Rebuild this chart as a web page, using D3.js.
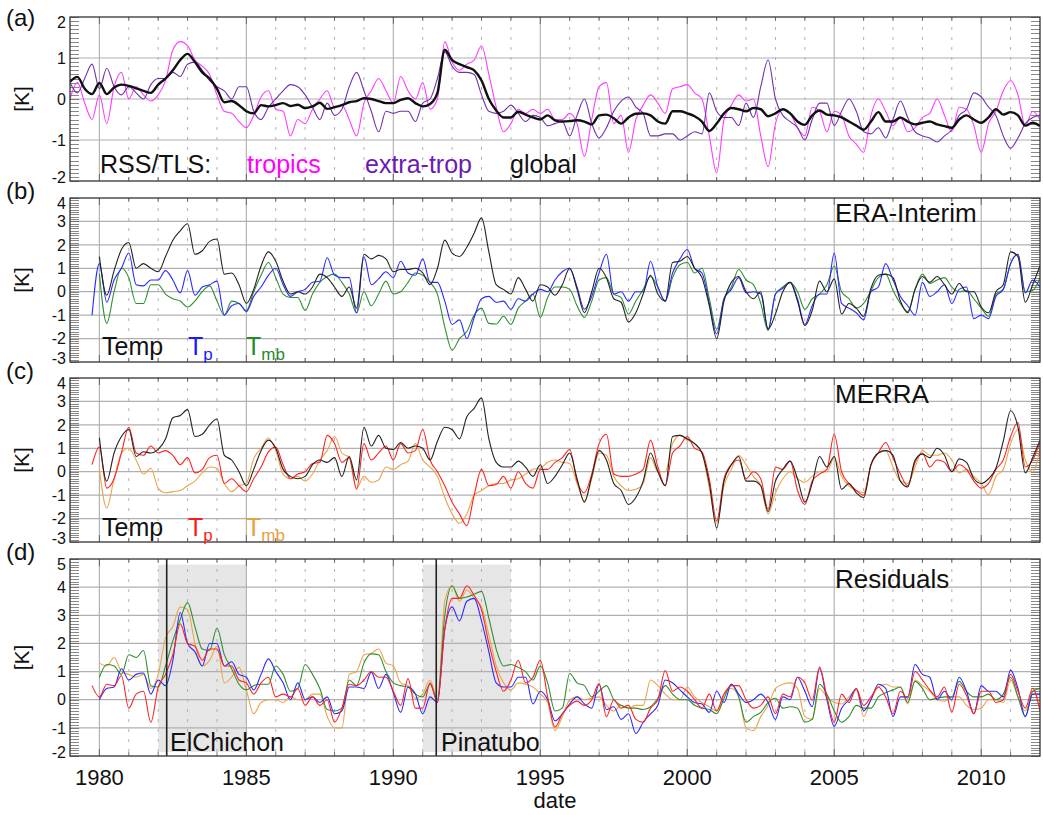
<!DOCTYPE html>
<html><head><meta charset="utf-8">
<script src="https://cdn.jsdelivr.net/npm/d3@7"></script>
<style>
body{margin:0;background:#fff}
svg{display:block;font-family:"Liberation Sans",Arial,Helvetica,sans-serif}
</style>
</head><body>
<svg id="chart" width="1043" height="815"></svg>
<script>
// ---------------- DATA (quarterly samples) ----------------
const STEP = 0.25;
const xTickYears = [1980, 1985, 1990, 1995, 2000, 2005, 2010];
const xTickLabels = ["1980", "1985", "1990", "1995", "2000", "2005", "2010"];
const yTicksA = [-2, -1, 0, 1, 2];
const yTicksBC = [-3, -2, -1, 0, 1, 2, 3, 4];
const yTicksD = [-2, -1, 0, 1, 2, 3, 4, 5];

// (a) RSS/TLS, start 1979.0
const rssTropics = [
  0.0, 0.4, -0.1, -0.5,   0.1, -0.6, 0.3, 0.65,   0.0, 0.3, 0.1, -0.05,   0.1, 0.45, 1.2, 1.4,
  1.3, 0.95, 0.8, 0.6,    0.1, -0.3, -0.35, -0.55, -0.7, -0.4, 0.05, 0.2,  -0.25, -0.3, -0.9, -0.5,
  -0.6, -0.25, 0.0, 0.2,  -0.2, -0.15, -0.5, -0.9, -0.1, 0.2, 0.5, 0.2,   -0.1, 0.55, 0.2, 0.0,
  0.4, -0.25, 0.0, 1.4,   0.9, 0.7, 0.85, 0.95,   1.3, 0.6, -0.2, -0.8,   -0.6, -0.25, -0.35, -0.25,
  -0.35, -0.25, -0.5, -0.5, -0.35, -0.6, -1.4, -0.5, 0.3, 0.4, -0.6, -0.4, -1.3, -0.5, -0.15, 0.1,
  -0.1, -0.35, 0.25, 0.3, 0.35, 0.15, 0.0, -0.9,  -1.8, -0.5, -0.15, 0.1,  -0.05, 0.0, -0.9, -1.65,
  -0.6, -0.25, -0.35, -0.7, -0.9, -0.2, -0.3, -0.8, -0.3, -0.4, -0.9, -1.1, -1.3, -0.4, 0.0, -0.3,
  -0.65, -0.45, -0.8, -0.7, -0.45, -0.35, 0.0, -0.4, -0.8, -0.2, -0.25, -0.65, -1.3, -0.6, -0.3, 0.2,
  0.45, 0.1, -0.65, -0.3, -0.5
];
const rssExtra = [
  0.4, 0.15, 0.5, 0.85,   0.25, 0.75, 0.3, 0.1,   0.3, 0.15, 0.0, 0.35,   0.5, 0.5, 0.65, 0.55,
  0.85, 0.9, 0.7, 0.45,   0.3, 0.2, 0.0, 0.3,     0.3, -0.3, -0.5, -0.2,  0.0, 0.2, 0.35, 0.3,
  0.1, -0.2, -0.5, -0.1,  -0.4, -0.25, 0.3, 0.65, 0.2, -0.3, -0.8, -0.3,  -0.35, -0.3, -0.3, -0.55,
  -0.1, 0.0, 0.5, 1.15,   0.8, 0.65, 0.65, 0.6,   0.1, -0.3, -0.35, -0.3, -0.15, -0.35, -0.55, -0.4,
  -0.45, -0.65, -0.6, -0.55, -0.9, -0.4, 0.0, -0.6, -0.95, -0.7, -0.3, -0.05, 0.05, -0.2, -0.35, -0.9,
  -0.9, -0.85, -0.85, -1.0, -0.9, -0.8, -0.85, 0.15, -0.3, -0.45, -0.45, -0.65, -0.1, -0.45, 0.3, 0.95,
  0.0, -0.4, -0.55, -0.7, -1.0, -0.5, -0.1, -0.1,  -0.65, -0.3, 0.0, -0.3, -0.8, -0.85, -0.7, -0.95,
  -0.5, -0.05, -0.45, -0.8, -0.9, -0.95, -1.05, -0.9, -0.75, -0.4, -0.25, 0.15, 0.05, -0.2, -0.4, -0.9,
  -1.2, -0.95, -0.6, -0.45, -0.4
];
const rssGlobal = [
  0.42, 0.54, 0.25, 0.12,  0.39, 0.12, 0.28, 0.35,  0.32, 0.26, 0.2, 0.15,  0.35, 0.5, 0.7, 0.95,
  1.1, 0.9, 0.65, 0.5,     0.25, -0.08, -0.05, -0.15, -0.3, -0.35, -0.15, -0.18, -0.15, -0.1, -0.17, -0.14,
  -0.22, -0.18, -0.09, -0.24, -0.2, -0.15, -0.08, -0.05, 0.02, 0.0, -0.05, -0.1, -0.1, -0.02, 0.02, -0.1,
  -0.18, -0.12, 0.15, 1.2, 0.95, 0.85, 0.78, 0.7,  0.45, 0.0, -0.28, -0.45, -0.45, -0.31, -0.38, -0.45,
  -0.5, -0.4, -0.52, -0.55, -0.54, -0.52, -0.55, -0.62, -0.4, -0.38, -0.47, -0.6, -0.45, -0.36, -0.35, -0.4,
  -0.55, -0.6, -0.3, -0.3, -0.35, -0.42, -0.55, -0.78, -0.6, -0.35, -0.22, -0.25, -0.3, -0.22, -0.25, -0.42,
  -0.35, -0.25, -0.35, -0.55, -0.63, -0.4, -0.28, -0.38, -0.4, -0.45, -0.55, -0.65, -0.75, -0.55, -0.32, -0.55,
  -0.55, -0.45, -0.55, -0.62, -0.58, -0.55, -0.62, -0.66, -0.7, -0.5, -0.4, -0.5, -0.58, -0.45, -0.25, -0.38,
  -0.32, -0.4, -0.65, -0.58, -0.66
];

// (b) ERA-Interim
const eraTemp = [ // start 1980.0
  1.5, -0.15, 0.9, 1.8,   2.1, 1.0, 1.2, 1.0,   0.85, 1.5, 2.2, 2.6,   2.9, 1.6, 1.75, 2.15,
  2.25, 0.75, 0.8, 0.3,   -0.5, 0.1, 1.1, 1.7,  1.3, 0.45, -0.1, 0.0,  -0.1, 0.2, 0.75, 0.6,
  0.2, -0.2, 0.2, -0.7,   1.6, 1.4, 1.55, 1.4,  0.85, 0.95, 0.95, 1.0,  0.8, 0.3, 1.0, 2.2,
  1.65, 1.5, 1.9, 2.5,    3.15, 1.7, 0.3, 0.1,  -0.1, 0.6, 0.1, -0.4,  0.3, 0.2, -0.15, 0.3,
  1.0, 0.1, -0.9, 0.0,    1.0, 0.6, -0.3, -0.45, -1.3, -0.9, -0.1, 0.7, -0.1, -0.4, 1.25, 1.3,
  1.5, 1.0, 0.6, -0.6,    -2.0, -0.4, 0.4, 0.65, 0.0, -0.3, 0.0, -1.6,  -0.95, 0.0, 0.4, -0.4,
  -1.45, -0.8, 0.45, 0.0, 0.55, -0.95, -0.5, -0.7, -1.05, 0.15, 0.7, 0.75, 0.6, -0.4, -0.9, 0.1,
  0.65, 0.4, 0.65, 0.3,   -0.1, 0.35, 0.0, 0.0,  -0.65, -0.9, 0.0, 0.3,  1.7, 1.5, -0.45, 0.3,
  1.1
];
const eraTp = [ // start 1979.75
  -1.0,
  1.2, -0.45, 0.5, 1.0,   1.65, 0.3, 0.25, 0.5,  0.5, 0.9, 0.5, -0.05,  0.9, -0.15, 0.2, 0.3,
  0.45, -1.0, -0.6, -0.5, -0.85, -0.2, 0.2, 0.7, 1.0, 0.3, -0.2, 0.0,   0.1, 0.4, 0.45, 1.45,
  0.7, 0.6, 0.6, -0.9,    1.5, 0.3, 0.55, 0.85, 0.6, 1.3, 0.8, 0.7,    1.4, 0.4, 0.4, -0.4,
  -1.4, -1.2, -2.0, -1.1, -0.3, -0.2, -0.45, -0.4, -0.75, -0.3, -0.4, -0.1, 0.1, 0.0, 0.5, 0.85,
  1.0, 0.2, -0.75, -0.2,  0.8, 1.6, -0.1, 0.0,  -0.4, 0.0, 0.0, 1.3,   0.2, -0.4, 0.8, 1.4,
  1.8, 1.0, 0.8, -0.5,    -1.8, -0.3, 0.1, 0.6, -0.05, 0.0, -0.1, -1.6, -0.1, 0.15, 0.4, -0.3,
  -1.4, -0.6, -0.1, -0.1, 1.65, -0.5, -0.7, -0.9, -1.2, 0.0, 0.2, 1.2,  0.5, -0.2, -0.6, -1.0,
  0.4, -0.2, 0.0, 0.3,    -0.5, 0.1, 0.2, -1.15, -1.0, -1.15, -0.2, 0.1, 1.2, 1.6, -0.05, 0.5,
  0.2
];
const eraTmb = [ // start 1980.0
  0.75, -1.35, 0.0, 1.0,  0.6, -0.5, -0.5, 0.3,  0.3, -0.1, -0.3, -0.4,  -0.65, -0.4, 0.0, 0.25,
  -0.4, -1.0, -0.4, -0.5, -0.8, 0.0, 0.7, 1.25,  0.6, -0.1, -0.25, -0.25, -0.8, -0.1, 0.4, 0.65,
  0.75, 0.4, -0.1, -0.9,  0.0, -0.6, -0.1, 0.45, -0.1, 0.0, 0.4, 0.8,   0.7, 0.4, -0.1, -1.5,
  -2.5, -2.0, -1.7, -1.0, -0.7, -1.35, -1.38, -1.05, -1.4, -0.7, -0.4, -0.1, -1.1, -0.25, 0.2, 0.2,
  0.1, -0.6, -1.1, -0.4,  0.5, 0.6, -0.1, -0.25, -0.95, -0.4, 0.1, 0.65, 0.2, -0.4, 0.6, 1.15,
  1.25, 0.8, 1.0, -0.3,   -1.6, -0.3, 0.2, 0.95, 0.5, 0.3, -0.5, -1.65, -0.1, 0.2, 0.4, 0.0,
  -0.75, -0.3, -0.1, 0.3, 1.1, 0.0, -0.3, -0.7,  -0.5, 0.05, 0.6, 0.75, 0.05, -0.5, -0.85, 0.1,
  0.75, 0.35, 0.5, 0.6,   0.2, 0.0, 0.05, -0.3,  -0.7, -1.05, -0.1, 0.1, 1.2, 1.6, 0.0, 0.05,
  0.6
];

// (c) MERRA
const merraTemp = [ // start 1980.0
  1.45, -0.4, 0.8, 1.5,   1.8, 0.65, 0.85, 0.8,  0.95, 1.4, 2.3, 2.4,   2.65, 1.5, 1.6, 2.0,
  2.25, 0.7, 0.5, 0.0,    -0.6, 0.1, 0.9, 1.35,  1.0, 0.1, -0.2, -0.3,  -0.2, 0.3, 0.5, 0.4,
  0.6, -0.2, 0.65, -0.35, 1.9, 1.1, 1.55, 1.0,   0.95, 1.25, 1.0, 1.1,  1.0, 0.5, 1.3, 1.9,
  1.8, 1.4, 2.35, 2.7,    3.15, 1.4, 0.4, 0.2,   0.2, 0.45, 0.2, -0.2,  0.3, -0.5, -0.2, 0.3,
  0.8, -0.3, -1.3, -0.2,  0.9, 0.5, -0.5, -0.8,  -1.4, -1.1, -0.4, 0.8, 0.0, -0.6, 1.5, 1.55,
  1.4, 1.2, 0.8, -0.5,    -2.4, -0.4, 0.3, 0.65, -0.4, -0.4, -0.6, -1.7, -0.4, 0.1, 0.45, -0.3,
  -1.3, -0.5, 0.65, 0.2,  0.65, -0.75, -0.5, -0.9, -1.1, 0.3, 0.8, 0.9,  0.7, -0.4, -0.65, 0.5,
  0.75, 0.6, 1.0, 0.7,    0.0, 0.55, 0.4, -0.3,  -0.5, -0.3, 0.15, 1.3,  2.6, 1.9, -0.05, 0.6,
  1.35
];
const merraTp = [ // start 1979.75
  0.3,
  1.05, -0.7, -0.3, 0.8,  1.9, 0.8, 0.7, 1.1,    0.8, 0.9, 0.7, 0.3,    0.6, -0.05, 0.1, 0.6,
  0.7, -0.5, -0.3, -0.6,  -0.85, -0.3, 0.2, 0.85, 1.05, 0.3, -0.3, -0.1, 0.0, 0.35, 0.4, 1.55,
  1.2, 0.4, 0.6, -0.75,   1.2, 0.5, 0.8, 1.1,    0.5, 1.2, 0.8, 0.9,    1.8, 0.5, 0.0, -0.6,
  -1.3, -1.8, -2.3, -1.0, 0.1, -0.6, -0.55, -0.2, -0.7, 0.0, -0.5, -0.7, 0.1, 0.1, 0.4, 0.6,
  0.95, -0.4, -0.9, -0.1, 1.2, 1.6, -0.1, -0.2,  -0.2, -0.1, 0.1, 1.35,  0.2, -0.6, 0.8, 1.1,
  1.5, 1.0, 0.85, -0.3,   -2.1, -0.3, 0.3, 0.5,  -0.3, 0.0, -0.3, -1.6,  0.2, 0.1, 0.45, -0.8,
  -1.4, -0.4, -0.1, 0.1,  1.6, 0.0, -0.5, -0.8,  -1.0, 0.3, 0.8, 1.25,  0.6, -0.1, -0.6, 0.4,
  0.8, 0.2, 0.5, 0.4,     0.0, 0.3, 0.1, -0.4,   -0.7, -0.5, 0.1, 0.5,  1.5, 2.1, 0.2, 0.5,
  1.25
];
const merraTmb = [ // start 1980.0
  0.1, -1.55, -0.3, 0.8,  1.0, 0.5, -0.1, 0.15,  -0.7, -0.9, -0.85, -0.8, -0.6, -0.4, -0.05, 0.2,
  0.15, -0.5, -0.85, -0.6, -0.5, 0.55, 1.0, 1.44, 0.9, -0.1, -0.3, -0.2, -0.4, -0.1, 0.5, 0.9,
  1.5, 0.8, 0.6, -0.7,    -0.2, -0.45, -0.35, 0.2, 0.1, 0.3, 0.45, 1.2,  0.5, 0.2, -0.2, -1.1,
  -1.8, -2.2, -1.8, -1.0, -0.8, -0.6, -0.5, -0.5, -0.35, -0.3, -0.1, 0.1, 0.15, 0.4, 0.5, 0.4,
  0.35, -0.5, -1.25, -0.3, 0.8, 0.7, -0.2, -0.6, -0.8, -0.75, -0.5, 0.6, 0.0, 0.0, 1.2, 1.55,
  1.35, 1.2, 0.8, -0.7,   -2.2, -0.6, 0.1, 0.7,  0.3, -0.2, -0.6, -1.8,  -0.9, -0.3, 0.0, -0.3,
  -0.45, -0.2, 0.0, 0.0,  0.6, -0.2, -0.6, -0.8, -0.9, 0.3, 0.8, 0.9,    0.2, -0.4, -0.5, 0.2,
  0.9, 0.7, 0.7, 0.8,     0.5, -0.05, 0.1, -0.2, -0.5, -0.98, -0.2, 0.1, 1.2, 1.8, 0.5, 0.0,
  1.0
];

// (d) Residuals
const resEraTp = [ // start 1980.0
  0.0, 0.4, 0.45, 1.1,    0.7, 0.9, 0.95, 0.2,   0.7, 0.5, 1.4, 3.1,    2.0, 1.7, 1.2, 2.0,
  2.0, 1.2, 1.35, 0.9,    0.8, 0.35, 0.9, 1.45,  1.0, 0.6, 0.0, 0.6,    0.0, 0.1, -0.1, 0.1,
  -0.5, -0.4, 0.45, 0.45, 0.4, 0.98, 0.4, 0.9,   0.25, -0.45, 0.45, 0.2, -0.5, 0.1, -0.1, 2.5,
  3.3, 2.8, 3.5, 3.6,     2.8, 1.7, 0.6, 0.45,   0.45, 0.8, 0.8, -0.15, 0.3, 0.0, -0.75, -0.5,
  -0.15, 0.1, -0.15, -0.3, 0.55, -0.35, -0.25, -0.7, -0.5, -1.2, -0.8, -0.5, -0.2, 0.7, 0.6, 0.35,
  0.1, -0.1, -0.15, -0.45, 0.3, -0.1, 0.55, 0.2, -0.1, 0.0, 0.2, -0.1,  -0.7, 0.1, 0.0, 0.8,
  0.3, -0.25, 1.1, 0.0,   -0.95, -0.3, 0.0, 0.4, -0.4, 0.0, 0.55, 0.4,  -0.6, 0.1, 0.1, 1.25,
  0.9, 0.8, 0.0, 0.3,     0.0, 0.8, 0.3, -0.5,   0.5, 0.3, 0.3, 0.1,    1.05, 0.4, -0.6, 0.2,
  0.2
];
const resMerraTp = [ // start 1979.75
  0.5,
  0.1, 0.55, 0.5, 0.85,   -0.3, 0.2, 0.3, -0.8,  0.45, 0.9, 1.6, 2.7,   2.0, 1.9, 1.4, 1.8,
  1.8, 1.2, 1.2, 0.7,     0.6, 0.2, 0.6, 0.8,    0.1, 0.2, 0.1, 0.4,    -0.2, 0.1, -0.2, 0.0,
  -0.8, -0.3, 0.55, 0.5,  0.7, 1.0, 0.8, 0.8,    0.3, -0.2, 0.75, -0.3, -0.3, 0.6, -0.1, 2.5,
  3.6, 3.6, 4.05, 3.7,    3.2, 2.0, 1.0, 0.3,    0.7, 1.4, 0.6, 0.8,    1.4, 0.1, -0.97, -0.5,
  -0.2, -0.05, -0.2, 0.0, 0.57, -0.6, 0.0, -0.3, -0.2, -0.7, -0.8, -0.3, 0.0, 1.04, 0.3, 0.45,
  0.3, 0.0, -0.3, 0.2,    -0.4, 0.2, 0.5, 0.5,   0.0, -0.3, -0.2, 0.1,  -0.5, 0.2, 0.1, 0.8,
  0.6, -0.02, 1.16, 0.1,  -0.8, 0.2, -0.1, 0.4,  -0.2, 0.1, 0.45, 0.1,  -0.5, 0.3, 0.05, 1.0,
  0.7, 0.35, 0.1, 0.45,   -0.45, 0.55, 0.15, -0.5, 0.3, 0.3, -0.1, 0.0, 0.9, 0.3, -0.3, 0.4,
  -0.4
];
const resEraTmb = [ // start 1980.0
  0.8, 1.25, 1.2, 0.9,    1.6, 1.5, 1.75, 0.5,   0.45, 1.2, 2.1, 2.85,  3.45, 2.6, 1.8, 1.75,
  2.55, 1.6, 1.1, 0.55,   0.35, 0.5, 0.55, 0.55, 1.2, 0.9, 0.3, 0.4,    1.25, 0.9, 0.4, -0.35,
  -0.4, -0.3, 0.7, 0.5,   1.3, 1.63, 1.6, 1.0,   0.6, 0.5, 0.45, 0.2,   0.1, 0.55, 0.0, 3.0,
  4.05, 3.6, 3.65, 3.75,  3.85, 2.9, 1.8, 1.2,   1.25, 1.15, 1.0, 0.7,  1.2, 0.6, -0.4, -0.3,
  0.93, 0.6, 0.5, 0.1,    0.3, 0.5, 0.0, -0.2,   -0.3, -0.3, -0.35, -0.25, 0.05, 0.5, 0.2, 0.0,
  0.0, -0.2, -0.3, -0.35, -0.5, 0.05, 0.55, 0.1, -0.8, -0.6, -0.45, -0.1, 0.05, -0.3, -0.25, -0.3,
  -0.8, -0.7, 0.55, 0.2,  -0.4, -0.8, -0.6, -0.2, -0.3, -0.3, 0.1, 0.25, 0.35, 0.45, -0.1, 0.65,
  0.4, 0.0, 0.05, 0.1,    0.1, 0.65, 0.3, 0.1,   0.1, 0.2, 0.0, 0.2,    0.8, 0.1, -0.6, 0.3,
  0.4
];
const resMerraTmb = [ // start 1980.0
  1.3, 1.2, 1.5, 1.0,     0.9, 0.8, 0.9, 0.4,    0.9, 2.2, 2.6, 3.3,    3.2, 2.0, 1.2, 1.4,
  1.9, 0.6, 0.8, 1.15,    0.35, -0.5, -0.1, 0.0, 0.0, -0.1, 0.1, 0.0,   0.0, 0.2, 0.2, -0.6,
  -1.0, -1.0, 0.9, 1.0,   1.6, 1.65, 1.8, 1.3,   1.2, 0.6, 0.5, 0.05,   0.2, 0.7, 0.0, 3.5,
  4.05, 3.5, 3.9, 3.6,    3.3, 2.3, 1.2, 0.6,    0.35, 0.6, 0.55, 0.45, 0.2, -0.1, -1.1, -0.6,
  0.0, 0.1, 0.0, 0.05,    0.1, -0.2, -0.4, -0.2, -0.3, -0.2, -0.2, 0.7, 0.5, 0.2, 0.0, 0.0,
  0.45, 0.1, -0.1, -0.25, -0.4, 0.2, 0.4, 0.1,   -1.0, -1.1, -0.6, -0.2, 0.4, 0.55, 0.6, 0.4,
  -0.6, -0.7, 0.4, 0.1,   -0.1, -0.15, 0.1, 0.35, -0.6, 0.0, 0.45, 0.55, 0.45, 0.45, -0.15, 0.7,
  0.5, 0.3, 0.0, -0.05,   0.1, 0.1, -0.2, -0.35, -0.3, 0.0, 0.0, -0.1,  0.7, 0.1, -0.4, 0.2,
  0.2
];

// Volcanic eruptions (panel d)
const volcanoNames = ["ElChichon", "Pinatubo"];
const volcanoDates = [1982.29, 1991.46];
const volcanoBoxStart = [1982.0, 1991.0];
const volcanoBoxEnd = [1985.0, 1994.0];
const volcanoBoxRange = [-1.86, 4.8];

// ---------------- DRAWING ----------------
const svg = d3.select("#chart");
svg.append("rect").attr("width", 1043).attr("height", 815).attr("fill", "#fff");

const L = 70, R = 1040;
const x = d3.scaleLinear().domain([1979, 2012]).range([L, R]);

const C = {
  magenta: "#ff3cff", purple: "#7030b0", black: "#111",
  blue: "#2a2aff", green: "#2f8f2f", red: "#ff2222", orange: "#eba449"
};

const panels = [
  { top: 17, bottom: 181, dom: [-2, 2], ticks: yTicksA, letter: "(a)", letterY: 26,
    series: [
      { v: rssTropics, s: 1979.0, c: C.magenta, w: 1.1 },
      { v: rssExtra, s: 1979.0, c: C.purple, w: 1.1 },
      { v: rssGlobal, s: 1979.0, c: C.black, w: 2.4 }
    ] },
  { top: 198, bottom: 362, dom: [-3, 4], ticks: yTicksBC, letter: "(b)", letterY: 199,
    series: [
      { v: eraTmb, s: 1980.0, c: C.green, w: 1.1 },
      { v: eraTp, s: 1979.75, c: C.blue, w: 1.1 },
      { v: eraTemp, s: 1980.0, c: "#222", w: 1.1 }
    ] },
  { top: 378, bottom: 542, dom: [-3, 4], ticks: yTicksBC, letter: "(c)", letterY: 379,
    series: [
      { v: merraTmb, s: 1980.0, c: C.orange, w: 1.1 },
      { v: merraTp, s: 1979.75, c: C.red, w: 1.1 },
      { v: merraTemp, s: 1980.0, c: "#222", w: 1.1 }
    ] },
  { top: 559, bottom: 756, dom: [-2, 5], ticks: yTicksD, letter: "(d)", letterY: 560,
    series: [
      { v: resMerraTmb, s: 1980.0, c: C.orange, w: 1.1 },
      { v: resEraTmb, s: 1980.0, c: C.green, w: 1.1 },
      { v: resEraTp, s: 1980.0, c: C.blue, w: 1.1 },
      { v: resMerraTp, s: 1979.75, c: C.red, w: 1.1 }
    ] }
];

panels.forEach((p, pi) => {
  const y = d3.scaleLinear().domain(p.dom).range([p.bottom, p.top]);
  const g = svg.append("g");
  const clipId = "clip" + pi;
  svg.append("clipPath").attr("id", clipId).append("rect")
    .attr("x", L).attr("y", p.top).attr("width", R - L).attr("height", p.bottom - p.top);

  // volcano boxes (panel d only)
  if (pi === 3) {
    volcanoBoxStart.forEach((b, i) => {
      g.append("rect")
        .attr("x", x(b)).attr("width", x(volcanoBoxEnd[i]) - x(b))
        .attr("y", y(volcanoBoxRange[1])).attr("height", y(volcanoBoxRange[0]) - y(volcanoBoxRange[1]))
        .attr("fill", "#e6e6e6");
    });
  }

  // vertical grid
  d3.range(1980, 2012).forEach(yr => {
    const major = yr % 5 === 0;
    g.append("line")
      .attr("x1", x(yr)).attr("x2", x(yr)).attr("y1", p.top).attr("y2", p.bottom)
      .attr("stroke", major ? "#b4b4b4" : "#a8a8a8")
      .attr("stroke-width", major ? 1.2 : 0.9)
      .attr("stroke-dasharray", major ? null : "3,7");
  });
  // horizontal grid
  p.ticks.filter(t => t > p.dom[0] && t < p.dom[1]).forEach(t => {
    g.append("line")
      .attr("x1", L).attr("x2", R).attr("y1", y(t)).attr("y2", y(t))
      .attr("stroke", "#b0b0b0").attr("stroke-width", 1.2);
  });

  // minor ticks every 0.1
  d3.range(Math.round(p.dom[0] * 10), Math.round(p.dom[1] * 10) + 1).forEach(k => {
    const yy = Math.round(y(k / 10)) + 0.5;
    g.append("line").attr("x1", L).attr("x2", L + 9).attr("y1", yy).attr("y2", yy)
      .attr("stroke", "#555").attr("stroke-width", 0.7);
    g.append("line").attr("x1", R - 9).attr("x2", R).attr("y1", yy).attr("y2", yy)
      .attr("stroke", "#555").attr("stroke-width", 0.7);
  });
  // x ticks (years) on bottom and top
  d3.range(1980, 2012).forEach(yr => {
    const len = yr % 5 === 0 ? 7 : 4;
    g.append("line").attr("x1", x(yr)).attr("x2", x(yr)).attr("y1", p.bottom).attr("y2", p.bottom - len)
      .attr("stroke", "#555").attr("stroke-width", 0.8);
    g.append("line").attr("x1", x(yr)).attr("x2", x(yr)).attr("y1", p.top).attr("y2", p.top + len)
      .attr("stroke", "#555").attr("stroke-width", 0.8);
  });

  // series
  const lg = g.append("g").attr("clip-path", `url(#${clipId})`);
  p.series.forEach(s => {
    const pts = s.v.map((v, i) => [s.s + i * STEP, v]);
    const line = d3.line().x(d => x(d[0])).y(d => y(d[1])).curve(d3.curveMonotoneX);
    lg.append("path").attr("d", line(pts))
      .attr("fill", "none").attr("stroke", s.c).attr("stroke-width", s.w)
      .attr("stroke-linejoin", "round");
  });

  // eruption lines
  if (pi === 3) {
    volcanoDates.forEach(d => {
      g.append("line").attr("x1", x(d)).attr("x2", x(d)).attr("y1", p.top).attr("y2", p.bottom)
        .attr("stroke", "#222").attr("stroke-width", 1.6);
    });
  }

  // frame
  g.append("rect").attr("x", L).attr("y", p.top).attr("width", R - L).attr("height", p.bottom - p.top)
    .attr("fill", "none").attr("stroke", "#333").attr("stroke-width", 1.3);

  // y tick labels (clamped inside the panel height, as in the original)
  p.ticks.forEach(t => {
    let cy = y(t);
    cy = Math.max(p.top + 5, Math.min(p.bottom - 4, cy));
    g.append("text").attr("x", 66).attr("y", cy).attr("dy", "0.36em")
      .attr("text-anchor", "end").attr("font-size", 16).attr("fill", "#111").text(t);
  });

  // axis title
  g.append("text").attr("transform", `translate(29,${(p.top + p.bottom) / 2}) rotate(-90)`)
    .attr("text-anchor", "middle").attr("font-size", 21).attr("fill", "#111").text("[K]");

  // panel letter
  g.append("text").attr("x", 6).attr("y", p.letterY).attr("font-size", 24).attr("fill", "#111").text(p.letter);
});

// x tick labels
xTickYears.forEach((yr, i) => {
  svg.append("text").attr("x", x(yr)).attr("y", 785).attr("text-anchor", "middle")
    .attr("font-size", 22).attr("fill", "#111").text(xTickLabels[i]);
});
svg.append("text").attr("x", (L + R) / 2).attr("y", 808).attr("text-anchor", "middle")
  .attr("font-size", 22).attr("fill", "#111").text("date");

// legends / annotations
function txt(xp, yp, s, col, size) {
  return svg.append("text").attr("x", xp).attr("y", yp).attr("font-size", size).attr("fill", col).text(s);
}
txt(100, 173, "RSS/TLS:", "#111", 25);
txt(247, 173, "tropics", "#ff00ff", 25);
txt(365, 173, "extra-trop", "#6a1cb0", 25);
txt(510, 173, "global", "#111", 25);

txt(835, 222, "ERA-Interim", "#111", 26);
txt(835, 403, "MERRA", "#111", 26);
txt(835, 588, "Residuals", "#111", 26);

function sub(xp, yp, main, subs, col) {
  const t = svg.append("text").attr("x", xp).attr("y", yp).attr("font-size", 25).attr("fill", col);
  t.append("tspan").text(main);
  t.append("tspan").attr("font-size", 17).attr("dy", 5).text(subs);
}
txt(102, 355, "Temp", "#111", 25);
sub(188, 355, "T", "p", "#1a1aff");
sub(246, 355, "T", "mb", "#2a8a2a");
txt(102, 536, "Temp", "#111", 25);
sub(188, 536, "T", "p", "#ff1a1a");
sub(246, 536, "T", "mb", "#e8a040");

txt(170, 751, volcanoNames[0], "#111", 25);
txt(441, 751, volcanoNames[1], "#111", 25);
</script>
</body></html>
